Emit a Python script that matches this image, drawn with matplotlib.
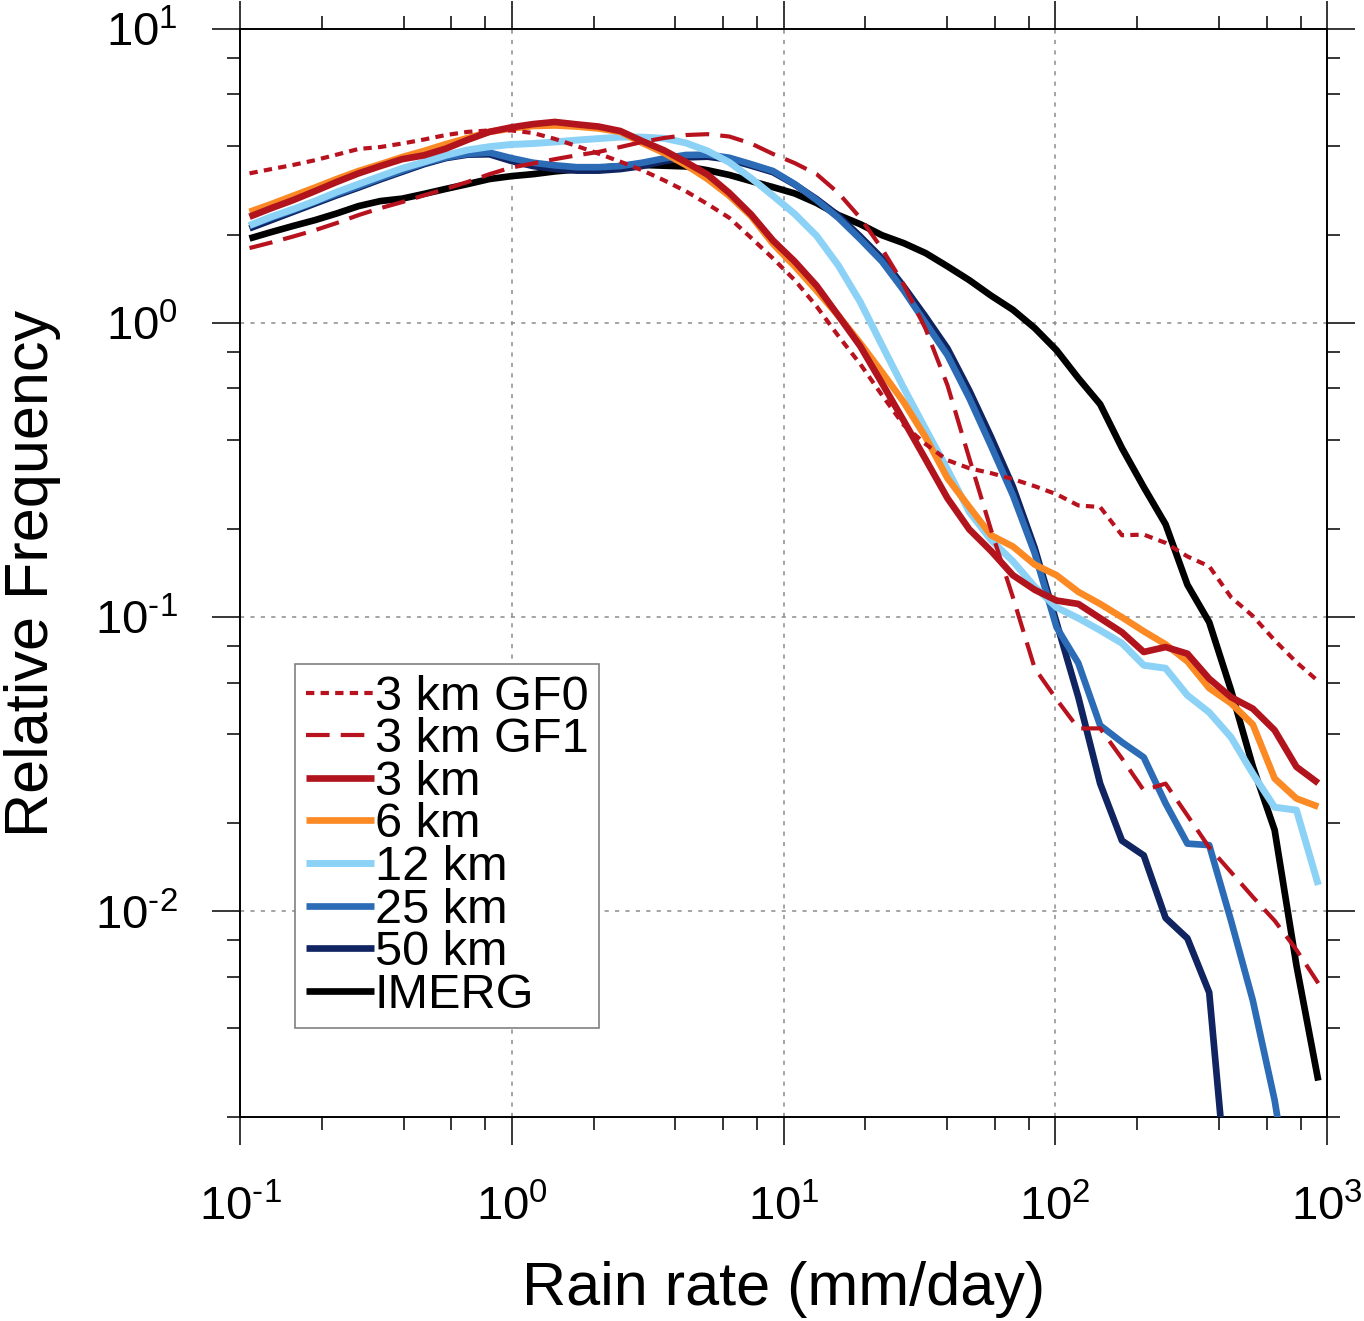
import numpy as np
import matplotlib
matplotlib.use('Agg')
import matplotlib.pyplot as plt
from matplotlib.ticker import LogLocator, NullFormatter

plt.rcParams['font.family'] = ['Liberation Sans', 'DejaVu Sans']
plt.rcParams['mathtext.fontset'] = 'custom'
plt.rcParams['mathtext.rm'] = 'Liberation Sans'
plt.rcParams['mathtext.it'] = 'Liberation Sans:italic'
plt.rcParams['mathtext.bf'] = 'Liberation Sans:bold'
plt.rcParams['mathtext.default'] = 'regular'
plt.rcParams['lines.scale_dashes'] = False

nan = np.nan

# Rain-rate bin centres (mm/day)
rain_rate = [0.1084, 0.1304, 0.1569, 0.1887, 0.2270, 0.2731, 0.3285, 0.3952, 0.4755, 0.5720,
             0.6882, 0.8279, 0.9956, 1.198, 1.441, 1.734, 2.086, 2.509, 3.018, 3.631,
             4.368, 5.254, 6.320, 7.603, 9.147, 11.00, 13.24, 15.92, 19.16, 23.04,
             27.72, 33.35, 40.12, 48.27, 58.06, 69.85, 84.03, 101.1, 121.6, 146.3,
             176.0, 211.7, 254.7, 306.4, 368.6, 443.5, 533.4, 641.7, 772.0, 928.7]

gf0 = [3.23, 3.34, 3.45, 3.58, 3.74, 3.91, 3.97, 4.08, 4.21, 4.36,
       4.47, 4.52, 4.52, 4.43, 4.23, 4.00, 3.77, 3.54, 3.31, 3.06,
       2.81, 2.54, 2.28, 1.95, 1.66, 1.40, 1.14, 0.904, 0.726, 0.569,
       0.450, 0.388, 0.342, 0.321, 0.309, 0.295, 0.279, 0.262, 0.240, 0.237,
       0.190, 0.191, 0.179, 0.161, 0.149, 0.117, 0.101, 0.0835, 0.0703, 0.0606]

gf1 = [1.80, 1.88, 1.97, 2.07, 2.19, 2.33, 2.46, 2.58, 2.72, 2.86,
       3.02, 3.21, 3.38, 3.49, 3.61, 3.72, 3.82, 3.97, 4.13, 4.26,
       4.36, 4.39, 4.31, 4.08, 3.76, 3.50, 3.21, 2.77, 2.28, 1.79,
       1.35, 0.955, 0.615, 0.347, 0.198, 0.117, 0.0671, 0.0526, 0.0419, 0.0419,
       0.0331, 0.0258, 0.0272, 0.0212, 0.0165, 0.0136, 0.0112, 0.0093, 0.0074, 0.0057]

km3 = [2.30, 2.46, 2.62, 2.81, 3.02, 3.23, 3.42, 3.61, 3.72, 3.92,
       4.20, 4.47, 4.63, 4.75, 4.83, 4.74, 4.66, 4.50, 4.16, 3.87,
       3.53, 3.20, 2.77, 2.34, 1.91, 1.62, 1.34, 1.06, 0.835, 0.625,
       0.465, 0.344, 0.254, 0.199, 0.168, 0.139, 0.124, 0.114, 0.111, 0.0993,
       0.0889, 0.0762, 0.0792, 0.0752, 0.0618, 0.0535, 0.0489, 0.0413, 0.0310, 0.0273]

km6 = [2.39, 2.54, 2.71, 2.89, 3.09, 3.29, 3.47, 3.67, 3.85, 4.06,
       4.26, 4.47, 4.59, 4.68, 4.70, 4.66, 4.59, 4.47, 4.10, 3.79,
       3.45, 3.09, 2.71, 2.31, 1.86, 1.56, 1.29, 1.06, 0.855, 0.681,
       0.538, 0.409, 0.297, 0.237, 0.190, 0.174, 0.151, 0.139, 0.122, 0.111,
       0.100, 0.0896, 0.0809, 0.0708, 0.0574, 0.0510, 0.0432, 0.0283, 0.0242, 0.0227]

km12 = [2.15, 2.30, 2.44, 2.60, 2.79, 2.97, 3.16, 3.36, 3.53, 3.72,
        3.88, 3.98, 4.05, 4.08, 4.13, 4.19, 4.24, 4.29, 4.29, 4.25,
        4.10, 3.85, 3.52, 3.11, 2.71, 2.35, 1.98, 1.57, 1.18, 0.841,
        0.601, 0.436, 0.318, 0.228, 0.183, 0.155, 0.127, 0.108, 0.0993, 0.0903,
        0.0816, 0.0687, 0.0671, 0.0543, 0.0475, 0.0391, 0.0294, 0.0226, 0.0221, 0.0123]

km25 = [2.14, 2.28, 2.42, 2.58, 2.75, 2.92, 3.11, 3.30, 3.50, 3.66,
        3.76, 3.80, 3.64, 3.51, 3.44, 3.39, 3.39, 3.42, 3.51, 3.63,
        3.73, 3.74, 3.65, 3.47, 3.29, 2.97, 2.62, 2.28, 1.93, 1.62,
        1.29, 1.00, 0.778, 0.556, 0.382, 0.260, 0.165, 0.0925, 0.0698, 0.0429,
        0.0376, 0.0334, 0.0233, 0.0170, 0.0168, 0.0093, 0.00498, 0.00228, 0.0008, nan]

km50 = [2.10, 2.24, 2.39, 2.55, 2.72, 2.89, 3.08, 3.27, 3.47, 3.64,
        3.74, 3.75, 3.56, 3.42, 3.34, 3.30, 3.30, 3.34, 3.42, 3.55,
        3.66, 3.68, 3.60, 3.43, 3.26, 2.96, 2.64, 2.32, 1.97, 1.66,
        1.33, 1.05, 0.82, 0.59, 0.41, 0.278, 0.172, 0.096, 0.0535, 0.0272,
        0.0174, 0.0155, 0.0095, 0.0081, 0.0053, 0.0008, nan, nan, nan, nan]

imerg = [1.94, 2.04, 2.14, 2.24, 2.36, 2.50, 2.60, 2.65, 2.75, 2.86,
         2.97, 3.09, 3.16, 3.21, 3.28, 3.33, 3.37, 3.42, 3.45, 3.43,
         3.41, 3.31, 3.19, 3.04, 2.90, 2.76, 2.56, 2.33, 2.17, 1.99,
         1.87, 1.73, 1.56, 1.40, 1.24, 1.11, 0.962, 0.809, 0.650, 0.530,
         0.376, 0.277, 0.207, 0.129, 0.0962, 0.0565, 0.0311, 0.0189, 0.00655, 0.00266]

series_labels = ['3 km GF0', '3 km GF1', '3 km', '6 km', '12 km', '25 km', '50 km', 'IMERG']
series_values = [gf0, gf1, km3, km6, km12, km25, km50, imerg]
series_colors = ['#B8121F', '#B8121F', '#B2141E', '#FB8A24', '#8CD2F6', '#2C6BB5', '#0F2460', '#000000']
series_styles = [(0, (6, 4.5)), (0, (17, 8)), '-', '-', '-', '-', '-', '-']
series_widths = [3.0, 3.0, 4.8, 4.8, 5.0, 4.8, 4.8, 4.8]

x_tick_values = [0.1, 1, 10, 100, 1000]
x_tick_labels = ['$10^{\\text{-}1}$', '$10^{0}$', '$10^{1}$', '$10^{2}$', '$10^{3}$']
y_tick_values = [0.01, 0.1, 1, 10]
y_tick_labels = ['$10^{\\text{-}2}$', '$10^{\\text{-}1}$', '$10^{0}$', '$10^{1}$']

fig = plt.figure(figsize=(13.64, 13.21), dpi=100)
ax = fig.add_axes([240 / 1364, 1 - 1117 / 1321, 1087 / 1364, 1088 / 1321])
ax.set_xscale('log')
ax.set_yscale('log')

lines = []
for i, (vals, lab, col, ls, lw) in enumerate(zip(series_values, series_labels, series_colors,
                                                  series_styles, series_widths)):
    ln, = ax.plot(rain_rate, vals, color=col, linestyle=ls, linewidth=lw, label=lab,
                  zorder=10 - i, solid_capstyle='butt', dash_capstyle='butt',
                  solid_joinstyle='round')
    lines.append(ln)

ax.set_xlim(0.1, 1000)
ax.set_ylim(0.002, 10)

ax.set_xticks(x_tick_values)
ax.set_xticklabels(x_tick_labels)
ax.set_yticks(y_tick_values)
ax.set_yticklabels(y_tick_labels)
ax.xaxis.set_minor_locator(LogLocator(base=10, subs=(2, 4, 6, 8), numticks=30))
ax.yaxis.set_minor_locator(LogLocator(base=10, subs=(2, 4, 6, 8), numticks=30))
ax.xaxis.set_minor_formatter(NullFormatter())
ax.yaxis.set_minor_formatter(NullFormatter())

ax.tick_params(which='both', direction='out', top=True, right=True, width=1.1, color='black')
ax.tick_params(which='major', length=20, labelsize=34)
ax.tick_params(which='minor', length=9.5)
ax.tick_params(axis='x', which='major', pad=29)
ax.tick_params(axis='y', which='major', pad=25)

for sp in ax.spines.values():
    sp.set_linewidth(1.4)
    sp.set_color('black')

ax.grid(True, which='major', color='#8c8c8c', linestyle=(0, (3, 4.5)), linewidth=1.1)
ax.set_axisbelow(True)

ax.set_xlabel('Rain rate (mm/day)', fontsize=44, labelpad=22)
ax.set_ylabel('Relative Frequency', fontsize=44, labelpad=24)

leg = ax.legend(handles=lines, labels=series_labels, loc='upper left',
                bbox_to_anchor=(295 / 1364, 1 - 664 / 1321), bbox_transform=fig.transFigure,
                borderaxespad=0, fontsize=35, handlelength=1.4, handletextpad=0.02,
                labelspacing=-0.05, borderpad=0.22, frameon=True, fancybox=False,
                framealpha=1, edgecolor='#808080')
leg.get_frame().set_linewidth(1.2)
leg.set_zorder(20)

fig.savefig('out.png', dpi=100)
